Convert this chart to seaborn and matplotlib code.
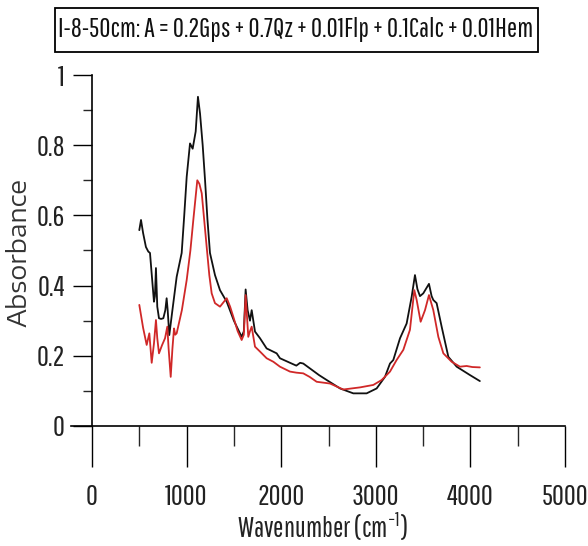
import matplotlib
matplotlib.use("Agg")
import matplotlib.pyplot as plt
import matplotlib.patches as mpatches
import seaborn as sns
import pandas as pd
from matplotlib.ticker import MultipleLocator

# ---------------- data ----------------
wn_black = [500, 518, 540, 570, 595, 613, 635, 655, 665, 676, 690, 708, 730, 754, 775, 789, 800, 817,
            850, 895, 948, 975, 1001, 1036, 1064, 1096, 1120, 1142, 1170, 1195, 1220, 1247, 1300,
            1353, 1424, 1500, 1582, 1605, 1624, 1645, 1670, 1688, 1723, 1776, 1846, 1952, 1987,
            2110, 2160, 2200, 2233, 2304, 2400, 2481, 2622, 2762, 2903, 3009, 3097, 3150, 3185,
            3256, 3326, 3379, 3414, 3440, 3467, 3502, 3562, 3590, 3608, 3643, 3696, 3767, 3855,
            3996, 4100]
abs_black = [0.558, 0.587, 0.55, 0.51, 0.497, 0.493, 0.42, 0.354, 0.37, 0.45, 0.34, 0.307, 0.305,
             0.307, 0.33, 0.364, 0.33, 0.259, 0.33, 0.425, 0.493, 0.60, 0.71, 0.805, 0.79, 0.839,
             0.938, 0.89, 0.80, 0.70, 0.59, 0.493, 0.43, 0.387, 0.354, 0.30, 0.254, 0.27, 0.389,
             0.33, 0.30, 0.33, 0.269, 0.25, 0.221, 0.207, 0.193, 0.178, 0.172, 0.18, 0.178, 0.164,
             0.145, 0.131, 0.107, 0.093, 0.093, 0.107, 0.14, 0.178, 0.188, 0.25, 0.292, 0.368,
             0.43, 0.39, 0.37, 0.378, 0.405, 0.37, 0.359, 0.35, 0.283, 0.197, 0.169, 0.145, 0.128]

wn_red = [500, 540, 578, 606, 631, 655, 676, 690, 708, 740, 772, 796, 810, 832, 850, 867, 880, 895,
          950, 1001, 1040, 1071, 1113, 1135, 1160, 1185, 1212, 1240, 1265, 1300, 1353, 1424, 1460,
          1494, 1540, 1582, 1605, 1624, 1652, 1670, 1688, 1723, 1776, 1846, 1917, 1987, 2093, 2160,
          2233, 2300, 2375, 2516, 2656, 2833, 2974, 3062, 3150, 3220, 3291, 3361, 3407, 3432, 3474,
          3520, 3562, 3608, 3661, 3714, 3802, 3890, 3960, 4020, 4100]
abs_red = [0.345, 0.28, 0.231, 0.264, 0.18, 0.235, 0.302, 0.25, 0.207, 0.23, 0.25, 0.283, 0.22,
           0.14, 0.22, 0.278, 0.26, 0.264, 0.33, 0.416, 0.50, 0.587, 0.70, 0.69, 0.663, 0.59,
           0.511, 0.43, 0.378, 0.35, 0.34, 0.364, 0.34, 0.311, 0.27, 0.245, 0.26, 0.373, 0.254,
           0.27, 0.283, 0.226, 0.212, 0.193, 0.183, 0.169, 0.155, 0.152, 0.15, 0.14, 0.126, 0.121,
           0.104, 0.11, 0.117, 0.131, 0.155, 0.188, 0.217, 0.274, 0.387, 0.359, 0.297, 0.33, 0.373,
           0.33, 0.254, 0.207, 0.183, 0.169, 0.171, 0.168, 0.167]

series_names = ["measured", "model"]
title_text = "I-8-50cm: A = 0.2Gps + 0.7Qz + 0.01Flp + 0.1Calc + 0.01Hem"
x_ticks = [0, 1000, 2000, 3000, 4000, 5000]
y_ticks = [0, 0.2, 0.4, 0.6, 0.8, 1]
y_tick_labels = ["0", "0.2", "0.4", "0.6", "0.8", "1"]

df = pd.concat([
    pd.DataFrame({"wn": wn_black, "A": abs_black, "s": series_names[0]}),
    pd.DataFrame({"wn": wn_red, "A": abs_red, "s": series_names[1]}),
])

# ---------------- style ----------------
sns.set_style("white")
NARROW = ["Pathway Gothic One", "DejaVu Sans"]
plt.rcParams["font.family"] = NARROW
plt.rcParams["mathtext.fontset"] = "custom"
plt.rcParams["mathtext.rm"] = "Pathway Gothic One"
plt.rcParams["mathtext.it"] = "Pathway Gothic One"

W, H = 588, 546
fig = plt.figure(figsize=(W / 100, H / 100), dpi=100)
ax = fig.add_axes([71 / W, 1 - 426 / H, (565 - 71) / W, (426 - 75) / H])

sns.lineplot(data=df, x="wn", y="A", hue="s", palette=["#111111", "#d02828"],
             linewidth=1.3, legend=False, ax=ax, sort=False, estimator=None)

ax.set_xlim(-222, 5000)
ax.set_ylim(0, 1)
ax.spines["top"].set_visible(False)
ax.spines["right"].set_visible(False)
ax.spines["left"].set_position(("data", 0))
for sp in ("left", "bottom"):
    ax.spines[sp].set_color("black")
    ax.spines[sp].set_linewidth(1.2)

ax.set_xticks(x_ticks)
ax.set_xticklabels([str(t) for t in x_ticks])
ax.xaxis.set_minor_locator(MultipleLocator(500))
ax.set_yticks(y_ticks)
ax.set_yticklabels(y_tick_labels)
ax.yaxis.set_minor_locator(MultipleLocator(0.1))

ax.tick_params(axis="x", which="major", direction="out", length=29.5, width=1.0,
               pad=12, labelsize=21, colors="black", labelcolor="#222222", bottom=True)
ax.tick_params(axis="x", which="minor", direction="out", length=14.5, width=1.0, bottom=True)
ax.tick_params(axis="y", which="major", direction="out", length=13.5, width=1.0,
               pad=6, labelsize=21, colors="black", labelcolor="#222222", left=True)
ax.tick_params(axis="y", which="minor", direction="out", length=6.5, width=1.0, left=True)
ax.set_xlabel("")
ax.set_ylabel("")

fig.text(19 / W, 1 - 253 / H, "Absorbance", rotation=90, ha="center", va="center",
         fontsize=18, family=["Encode Sans Expanded", "Liberation Sans", "DejaVu Sans"],
         color="#333333")
fig.text(322 / W, 1 - 527 / H, r"Wavenumber (cm$^{\mathregular{-1}}$)", ha="center",
         va="center", fontsize=20, color="#222222")

# boxed title
fig.patches.append(mpatches.Rectangle((55 / W, 1 - 52 / H), (538 - 55) / W, 44 / H,
                                      transform=fig.transFigure, fc="white", ec="black",
                                      lw=1.3, zorder=1))
fig.text(296 / W, 1 - 30 / H, title_text, ha="center", va="center", fontsize=19.5,
         color="#111111", zorder=2)

fig.savefig("out.png", dpi=100)
